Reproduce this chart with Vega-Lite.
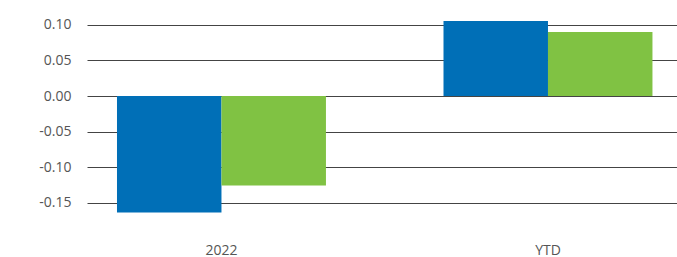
{
  "$schema": "https://vega.github.io/schema/vega-lite/v6.json",
  "width": 590,
  "height": 224,
  "autosize": "none",
  "padding": {"left": 87, "top": 0, "right": 0, "bottom": 33},
  "config": {"view": {"stroke": null}, "font": "Open Sans"},
  "data": {"values": [
    {"period": "2022", "series": "A", "value": -0.164},
    {"period": "2022", "series": "B", "value": -0.126},
    {"period": "YTD", "series": "A", "value": 0.1055},
    {"period": "YTD", "series": "B", "value": 0.090}
  ]},
  "mark": {"type": "bar"},
  "encoding": {
    "x": {"field": "period", "type": "nominal",
      "scale": {"paddingInner": 0.36, "paddingOuter": 0.0835, "align": 0.55},
      "axis": {"title": null, "labelAngle": 0, "domain": false, "ticks": false, "grid": false,
        "labelFontSize": 14, "labelColor": "#555555", "labelPadding": 19, "labelFont": "Open Sans"}},
    "xOffset": {"field": "series", "type": "nominal", "scale": {"paddingInner": 0, "paddingOuter": 0}},
    "y": {"field": "value", "type": "quantitative",
      "scale": {"domain": [-0.18, 0.135], "nice": false, "zero": false},
      "axis": {"title": null, "values": [-0.15, -0.1, -0.05, 0, 0.05, 0.1], "format": ".2f",
        "labelExpr": "replace(datum.label, '\u2212', '-')",
        "domain": false, "ticks": false, "grid": true, "gridColor": "#444444", "gridWidth": 1, "gridOpacity": 1,
        "labelFontSize": 14, "labelColor": "#555555", "labelPadding": 16, "labelFont": "Open Sans"}},
    "color": {"field": "series", "type": "nominal",
      "scale": {"domain": ["A", "B"], "range": ["#006fb7", "#80c243"]}, "legend": null}
  }
}
